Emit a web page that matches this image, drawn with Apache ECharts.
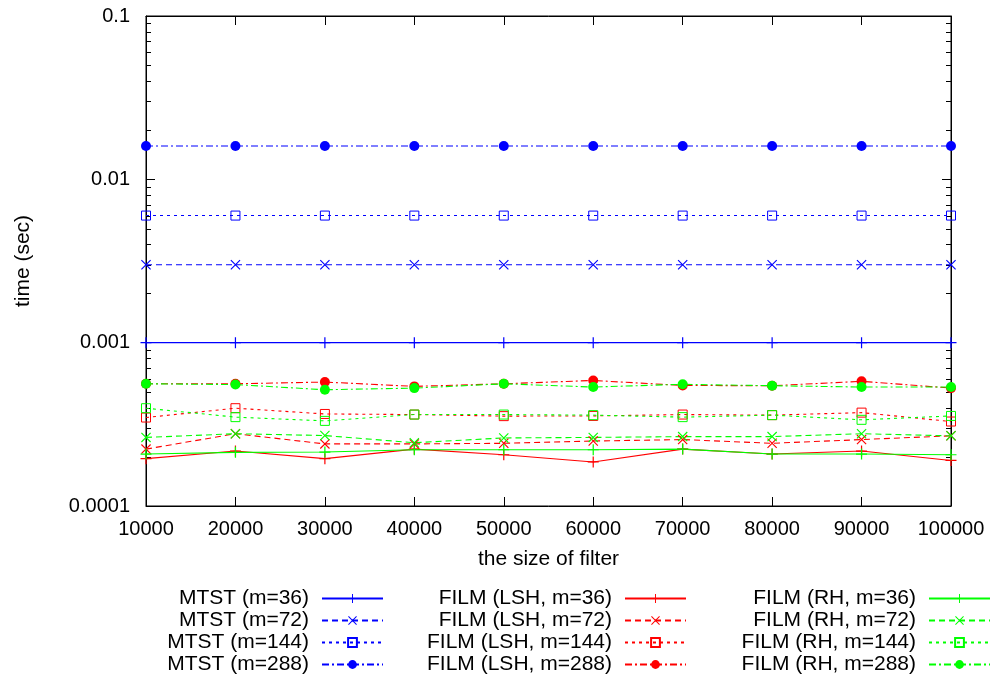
<!DOCTYPE html>
<html>
<head>
<meta charset="utf-8">
<title>time vs the size of filter</title>
<script src="https://cdn.jsdelivr.net/npm/echarts@6/dist/echarts.min.js"></script>
<style>
	html, body { margin: 0; padding: 0; background: #fff; }
	#chart { width: 993px; height: 675px; }
</style>
</head>
<body>
<div id="chart"></div>
<script>
// 数据
var xValues = [10000, 20000, 30000, 40000, 50000, 60000, 70000, 80000, 90000, 100000];
var yTickLabels = ['0.0001', '0.001', '0.01', '0.1'];
var yMinorDecades = [0.0001, 0.001, 0.01];
var yMinorSteps = [2, 3, 4, 5, 6, 7, 8, 9];

var mtst36  = [0.001, 0.001, 0.001, 0.001, 0.001, 0.001, 0.001, 0.001, 0.001, 0.001];
var mtst72  = [0.003, 0.003, 0.003, 0.003, 0.003, 0.003, 0.003, 0.003, 0.003, 0.003];
var mtst144 = [0.006, 0.006, 0.006, 0.006, 0.006, 0.006, 0.006, 0.006, 0.006, 0.006];
var mtst288 = [0.016, 0.016, 0.016, 0.016, 0.016, 0.016, 0.016, 0.016, 0.016, 0.016];

var lsh36  = [0.000195, 0.000217, 0.000195, 0.000223, 0.000206, 0.000186, 0.000223, 0.000208, 0.000217, 0.000190];
var lsh72  = [0.000223, 0.000277, 0.000240, 0.000240, 0.000242, 0.000250, 0.000255, 0.000242, 0.000255, 0.000269];
var lsh144 = [0.000348, 0.000397, 0.000366, 0.000363, 0.000355, 0.000356, 0.000363, 0.000360, 0.000373, 0.000329];
var lsh288 = [0.000560, 0.000560, 0.000574, 0.000540, 0.000560, 0.000587, 0.000547, 0.000545, 0.000580, 0.000527];

var rh36  = [0.000208, 0.000213, 0.000214, 0.000221, 0.000221, 0.000221, 0.000223, 0.000208, 0.000208, 0.000206];
var rh72  = [0.000263, 0.000277, 0.000270, 0.000244, 0.000261, 0.000263, 0.000266, 0.000266, 0.000277, 0.000269];
var rh144 = [0.000397, 0.000350, 0.000332, 0.000363, 0.000363, 0.000360, 0.000350, 0.000360, 0.000337, 0.000356];
var rh288 = [0.000560, 0.000554, 0.000515, 0.000527, 0.000560, 0.000535, 0.000556, 0.000545, 0.000535, 0.000535];

var BLUE = '#0000ff', RED = '#ff0000', GREEN = '#00ff00';
var FONT = '"Liberation Sans", Arial, Helvetica, sans-serif';

// 点的形状 (gnuplot 风格)
var PLUS = 'path://M0,4.45 L10,4.45 L10,5.55 L0,5.55 Z M4.45,0 L5.55,0 L5.55,10 L4.45,10 Z';
var CROSS = 'path://M0,0.8 L0.8,0 L10,9.2 L9.2,10 Z M9.2,0 L10,0.8 L0.8,10 L0,9.2 Z';

var styles = [
	{dash: 'solid', symbol: PLUS, size: 11, hollow: false},
	{dash: [6, 4], symbol: CROSS, size: 10, hollow: false},
	{dash: [3, 4], symbol: 'rect', size: 9, hollow: true},
	{dash: [7, 3, 2, 3], symbol: 'circle', size: 10, hollow: false}
];

function makeSeries(name, values, color, idx) {
	var s = styles[idx];
	return {
		name: name,
		type: 'line',
		data: xValues.map(function(x, i){ return [x, values[i]]; }),
		symbol: s.symbol,
		symbolSize: s.size,
		showAllSymbol: true,
		lineStyle: {color: color, width: 1.1, type: s.dash},
		itemStyle: s.hollow ? {color: 'rgba(0,0,0,0)', borderColor: color, borderWidth: 1} : {color: color, borderWidth: 0},
		emphasis: {disabled: true},
		animation: false
	};
}

var mtstNames = ['MTST (m=36)', 'MTST (m=72)', 'MTST (m=144)', 'MTST (m=288)'];
var lshNames = ['FILM (LSH, m=36)', 'FILM (LSH, m=72)', 'FILM (LSH, m=144)', 'FILM (LSH, m=288)'];
var rhNames = ['FILM (RH, m=36)', 'FILM (RH, m=72)', 'FILM (RH, m=144)', 'FILM (RH, m=288)'];

var series = [];
[mtst36, mtst72, mtst144, mtst288].forEach(function(v, i){ series.push(makeSeries(mtstNames[i], v, BLUE, i)); });
[lsh36, lsh72, lsh144, lsh288].forEach(function(v, i){ series.push(makeSeries(lshNames[i], v, RED, i)); });
[rh36, rh72, rh144, rh288].forEach(function(v, i){ series.push(makeSeries(rhNames[i], v, GREEN, i)); });

function makeLegend(names, right) {
	return {
		data: names,
		orient: 'vertical',
		align: 'right',
		right: right,
		top: 588,
		padding: 0,
		itemWidth: 61,
		itemHeight: 11,
		itemGap: 1,
		selectedMode: false,
		textStyle: {fontFamily: FONT, fontSize: 21, color: '#000', lineHeight: 20, padding: [0, 8, 0, 0]}
	};
}

var tickStyle = {inside: true, length: 9, lineStyle: {color: '#000', width: 1}};
var lineStyle = {show: true, lineStyle: {color: '#000', width: 1}};

var chart = echarts.init(document.getElementById('chart'), null, {renderer: 'canvas'});
var option = {
	backgroundColor: '#fff',
	animation: false,
	grid: {left: 146, right: 42, top: 16, bottom: 169, show: true, borderColor: '#000', borderWidth: 1, containLabel: false},
	legend: [makeLegend(mtstNames, 609), makeLegend(lshNames, 306), makeLegend(rhNames, 2)],
	xAxis: [
		{
			type: 'value', min: 10000, max: 100000, interval: 10000,
			name: 'the size of filter', nameLocation: 'middle', nameGap: 43,
			nameTextStyle: {fontFamily: FONT, fontSize: 21, color: '#000'},
			axisLine: lineStyle, axisTick: tickStyle, splitLine: {show: false},
			axisLabel: {fontFamily: FONT, fontSize: 20, color: '#000', margin: 13, formatter: function(v){ return String(v); }}
		},
		{
			type: 'value', position: 'top', min: 10000, max: 100000, interval: 10000,
			axisLine: lineStyle, axisTick: tickStyle, splitLine: {show: false}, axisLabel: {show: false}
		}
	],
	yAxis: [
		{
			type: 'log', logBase: 10, min: 0.0001, max: 0.1, splitNumber: 3,
			name: 'time (sec)', nameLocation: 'middle', nameGap: 112,
			nameTextStyle: {fontFamily: FONT, fontSize: 21, color: '#000'},
			axisLine: lineStyle, axisTick: tickStyle, splitLine: {show: false},
			axisLabel: {fontFamily: FONT, fontSize: 20, color: '#000', margin: 16, formatter: function(v){
				return yTickLabels[Math.round(Math.log10(v)) + 4];
			}}
		},
		{
			type: 'log', logBase: 10, min: 0.0001, max: 0.1, splitNumber: 3, position: 'right',
			axisLine: lineStyle, axisTick: tickStyle, splitLine: {show: false}, axisLabel: {show: false}
		}
	],
	series: series
};
chart.setOption(option);

// 对数坐标的次刻度
function drawMinorTicks() {
	var xl = chart.convertToPixel({xAxisIndex: 0}, xValues[0]);
	var xr = chart.convertToPixel({xAxisIndex: 0}, xValues[xValues.length - 1]);
	var els = [];
	yMinorDecades.forEach(function(d){
		yMinorSteps.forEach(function(m){
			var y = Math.round(chart.convertToPixel({yAxisIndex: 0}, d * m)) + 0.5;
			els.push({type: 'line', shape: {x1: xl, y1: y, x2: xl + 5, y2: y}, style: {stroke: '#000', lineWidth: 1}, silent: true});
			els.push({type: 'line', shape: {x1: xr - 5, y1: y, x2: xr, y2: y}, style: {stroke: '#000', lineWidth: 1}, silent: true});
		});
	});
	chart.setOption({graphic: els});
}
drawMinorTicks();
</script>
</body>
</html>
